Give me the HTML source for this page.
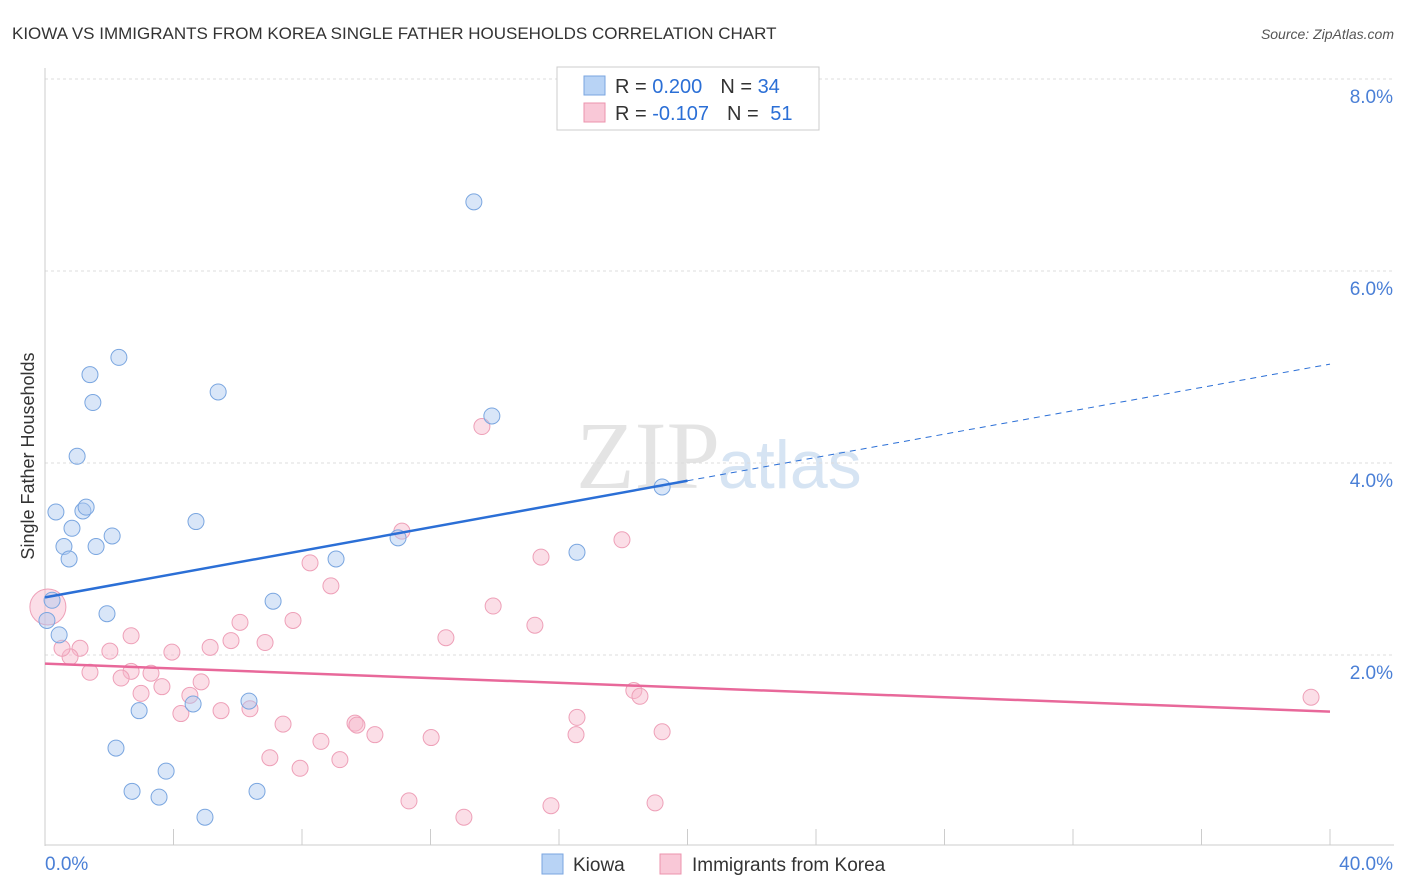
<!DOCTYPE html>
<html><head><meta charset="utf-8"><style>
body{margin:0;background:#fff;font-family:"Liberation Sans",sans-serif;}
svg{display:block}
</style></head><body>
<svg id="chart" width="1406" height="892">
<text x="12" y="39" font-size="17" fill="#333">KIOWA VS IMMIGRANTS FROM KOREA SINGLE FATHER HOUSEHOLDS CORRELATION CHART</text>
<text x="1394" y="39" font-size="14" fill="#555" text-anchor="end" font-style="italic">Source: ZipAtlas.com</text>
<text x="720" y="488" font-size="96" fill="#e4e4e4" text-anchor="end" font-family="Liberation Serif">ZIP</text>
<text x="718" y="488" font-size="68" fill="#d6e4f3">atlas</text>
<g id="grid"></g><g id="axes"></g><g id="marks"></g>
<text transform="translate(34,456) rotate(-90)" font-size="18" fill="#333" text-anchor="middle">Single Father Households</text>
<g>
<rect x="557" y="67" width="262" height="63" fill="#fff" stroke="#ccc"/>
<rect x="584" y="76" width="21" height="19" fill="#b8d3f5" stroke="#7aa6e0"/>
<rect x="584" y="103" width="21" height="19" fill="#f9c8d7" stroke="#ec93ad"/>
<text x="615" y="93" font-size="20" fill="#333">R = <tspan fill="#2b6fd6">0.200</tspan><tspan dx="18">N = </tspan><tspan fill="#2b6fd6">34</tspan></text>
<text x="615" y="120" font-size="20" fill="#333">R = <tspan fill="#2b6fd6">-0.107</tspan><tspan dx="18">N = </tspan><tspan fill="#2b6fd6" dx="6">51</tspan></text>
</g>
<g>
<rect x="542" y="854" width="21" height="20" fill="#b8d3f5" stroke="#7aa6e0"/>
<text x="573" y="871" font-size="19" fill="#333">Kiowa</text>
<rect x="660" y="854" width="21" height="20" fill="#f9c8d7" stroke="#ec93ad"/>
<text x="692" y="871" font-size="19" fill="#333">Immigrants from Korea</text>
</g>
</svg>
<script>
const blueX=[13.35,2.30,1.40,1.49,5.39,13.91,1.00,0.34,1.18,1.28,0.84,4.70,2.09,0.59,1.59,0.75,9.06,10.99,16.56,19.21,7.10,0.22,1.93,0.06,0.44,6.35,4.61,2.93,2.21,3.77,2.71,3.55,6.60,4.98];
const blueY=[6.72,5.10,4.92,4.63,4.74,4.49,4.07,3.49,3.50,3.54,3.32,3.39,3.24,3.13,3.13,3.00,3.00,3.22,3.07,3.75,2.56,2.57,2.43,2.36,2.21,1.52,1.49,1.42,1.03,0.79,0.58,0.52,0.58,0.31];
const pinkX=[13.60,11.11,17.96,15.44,8.25,8.90,13.95,7.72,6.07,15.25,12.48,2.68,5.79,6.85,1.09,2.02,5.14,3.95,0.78,0.53,1.40,2.68,3.30,2.37,4.86,3.64,2.99,4.51,18.33,18.52,39.41,5.48,6.38,4.23,16.56,7.41,9.65,9.71,10.27,16.53,19.21,12.02,8.59,7.00,9.18,7.94,11.33,15.75,18.99,13.04,0.09];
const pinkY=[4.38,3.29,3.20,3.02,2.96,2.72,2.51,2.36,2.34,2.31,2.18,2.20,2.15,2.13,2.07,2.04,2.08,2.03,1.98,2.07,1.82,1.83,1.81,1.76,1.72,1.67,1.60,1.58,1.63,1.57,1.56,1.42,1.44,1.39,1.35,1.28,1.29,1.27,1.17,1.17,1.20,1.14,1.10,0.93,0.91,0.82,0.48,0.43,0.46,0.31,2.50];
const blueTrend=[2.60,5.03]; // y at x=0 and x=40
const pinkTrend=[1.91,1.41];
const yTicks=[2,4,6,8];
const yTickLabels=["2.0%","4.0%","6.0%","8.0%"];
const xTickLabels=["0.0%","40.0%"];
const NS="http://www.w3.org/2000/svg";
const xs=v=>45+v/40*1285, ys=v=>847-v*96;
function mk(t,a,p){const e=document.createElementNS(NS,t);for(const k in a)e.setAttribute(k,a[k]);p.appendChild(e);return e;}
const grid=document.getElementById('grid'),axes=document.getElementById('axes'),marks=document.getElementById('marks');
yTicks.forEach((t,i)=>{
 const l=mk('line',{x1:45,x2:1394,y1:ys(t),y2:ys(t),stroke:'#ddd','stroke-dasharray':'3,3'},grid);
 
 
 const tx=mk('text',{x:1393,y:ys(t)+24,'font-size':19,fill:'#4a7fd6','text-anchor':'end'},axes);tx.textContent=yTickLabels[i];
 
 
});
mk('line',{x1:45,x2:45,y1:68,y2:846,stroke:'#ccc'},axes);
mk('line',{x1:45,x2:1394,y1:845,y2:845,stroke:'#ccc'},axes);
for(let i=1;i<=10;i++){const x=45+i*128.5;const t=mk('line',{x1:x,x2:x,y1:829,y2:845,stroke:'#ccc'},axes);
 
 }
const xl0=mk('text',{x:45,y:870,'font-size':19,fill:'#4a7fd6'},axes);xl0.textContent=xTickLabels[0];


const xl1=mk('text',{x:1393,y:870,'font-size':19,fill:'#4a7fd6','text-anchor':'end'},axes);xl1.textContent=xTickLabels[1];


pinkX.forEach((x,i)=>{const c=mk('circle',{cx:xs(x),cy:ys(pinkY[i]),r:i==pinkX.length-1?18:8,fill:'rgba(246,182,202,0.45)',stroke:'#eea0b8','stroke-width':1},marks);
 
 });
blueX.forEach((x,i)=>{const c=mk('circle',{cx:xs(x),cy:ys(blueY[i]),r:8,fill:'rgba(170,200,240,0.45)',stroke:'#7aa6e0','stroke-width':1},marks);
 
 });
const bAt=x=>blueTrend[0]+(blueTrend[1]-blueTrend[0])*x/40;
const b1=mk('line',{x1:xs(0),y1:ys(bAt(0)),x2:xs(20),y2:ys(bAt(20)),stroke:'#2b6fd6','stroke-width':2.5},marks);


const b2=mk('line',{x1:xs(20),y1:ys(bAt(20)),x2:xs(40),y2:ys(bAt(40)),stroke:'#2b6fd6','stroke-width':1,'stroke-dasharray':'6,5'},marks);


const p1=mk('line',{x1:xs(0),y1:ys(pinkTrend[0]),x2:xs(40),y2:ys(pinkTrend[1]),stroke:'#e8689a','stroke-width':2.5},marks);


</script>
</body></html>
